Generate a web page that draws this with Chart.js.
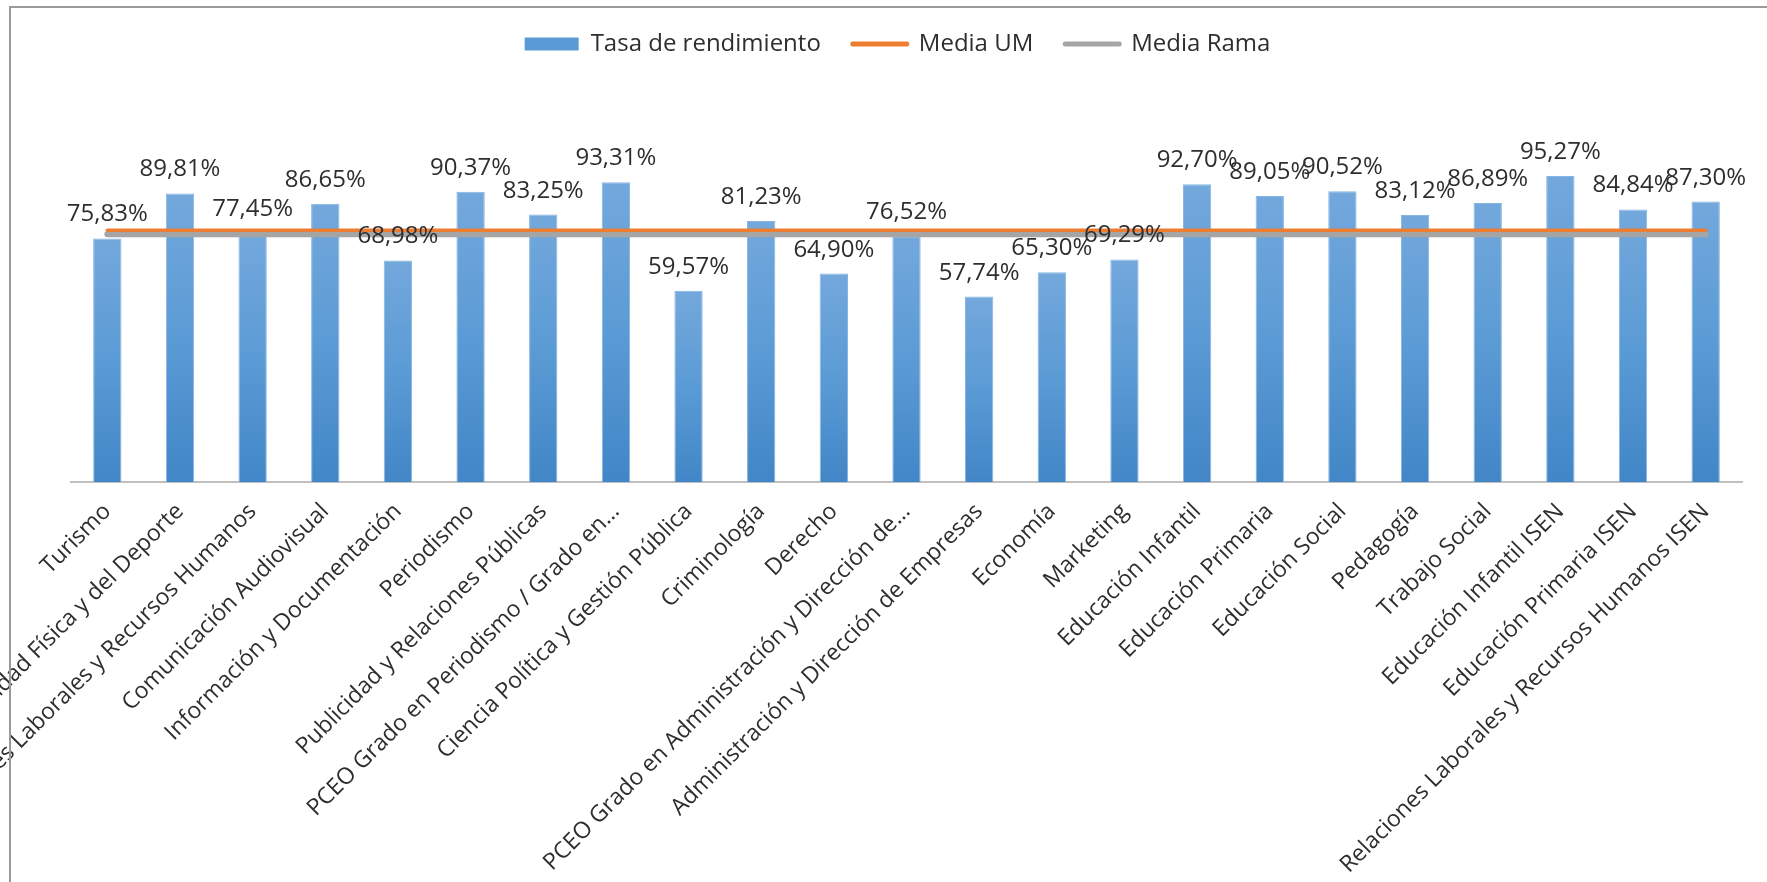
<!DOCTYPE html>
<html>
<head>
<meta charset="utf-8">
<script src="https://cdn.jsdelivr.net/npm/chart.js@4"></script>
<style>
    body { margin: 0; background: #fff; overflow: hidden; }
    #wrap { position: relative; width: 1767px; height: 882px; }
    #frame { position: absolute; left: 9px; top: 6px; right: -10px; bottom: -10px;
             border-top: 2px solid #9a9a9a; border-left: 2px solid #9a9a9a; pointer-events: none; }
</style>
</head>
<body>
<div id="wrap">
    <canvas id="grafico" width="1767" height="882"></canvas>
    <div id="frame"></div>
</div>
<script>
const titulaciones = [
    'Turismo',
    'Ciencias de la Actividad Física y del Deporte',
    'Relaciones Laborales y Recursos Humanos',
    'Comunicación Audiovisual',
    'Información y Documentación',
    'Periodismo',
    'Publicidad y Relaciones Públicas',
    'PCEO Grado en Periodismo / Grado en…',
    'Ciencia Política y Gestión Pública',
    'Criminología',
    'Derecho',
    'PCEO Grado en Administración y Dirección de…',
    'Administración y Dirección de Empresas',
    'Economía',
    'Marketing',
    'Educación Infantil',
    'Educación Primaria',
    'Educación Social',
    'Pedagogía',
    'Trabajo Social',
    'Educación Infantil ISEN',
    'Educación Primaria ISEN',
    'Relaciones Laborales y Recursos Humanos ISEN'
];
const tasa = [75.83, 89.81, 77.45, 86.65, 68.98, 90.37, 83.25, 93.31, 59.57, 81.23, 64.90, 76.52,
              57.74, 65.30, 69.29, 92.70, 89.05, 90.52, 83.12, 86.89, 95.27, 84.84, 87.30];
const media_um = [78.4, 78.4, 78.4, 78.4, 78.4, 78.4, 78.4, 78.4, 78.4, 78.4, 78.4, 78.4,
                  78.4, 78.4, 78.4, 78.4, 78.4, 78.4, 78.4, 78.4, 78.4, 78.4, 78.4];
const media_rama = [77.1, 77.1, 77.1, 77.1, 77.1, 77.1, 77.1, 77.1, 77.1, 77.1, 77.1, 77.1,
                    77.1, 77.1, 77.1, 77.1, 77.1, 77.1, 77.1, 77.1, 77.1, 77.1, 77.1];

const textColor = '#2e2e2e';
const fontName = '"Open Sans", sans-serif';

function formatPct(v) {
    return v.toFixed(2).replace('.', ',') + '%';
}

// Beschriftung über den Balken
const barLabels = {
    id: 'barLabels',
    afterDatasetsDraw(chart) {
        const meta = chart.getDatasetMeta(0);
        const c = chart.ctx;
        c.save();
        c.font = '24px ' + fontName;
        c.fillStyle = textColor;
        c.textAlign = 'center';
        c.textBaseline = 'alphabetic';
        meta.data.forEach((bar, i) => {
            c.fillText(formatPct(tasa[i]), bar.x, bar.y - 17);
        });
        c.restore();
    }
};

window.onload = function() {
    const ctx = document.getElementById('grafico').getContext('2d');
    new Chart(ctx, {
        type: 'bar',
        data: {
            labels: titulaciones,
            datasets: [
                {
                    label: 'Tasa de rendimiento',
                    data: tasa,
                    order: 3,
                    backgroundColor: context => {
                        const chart = context.chart;
                        if (!chart.chartArea || context.type !== 'data') return '#5b9bd5';
                        const y = chart.scales.y;
                        const top = y.getPixelForValue(context.raw);
                        const bottom = y.getPixelForValue(0);
                        const g = chart.ctx.createLinearGradient(0, top, 0, bottom);
                        g.addColorStop(0, '#73a8dc');
                        g.addColorStop(0.5, '#5b9bd5');
                        g.addColorStop(1, '#4286c7');
                        return g;
                    },
                    borderColor: '#86b5e3',
                    borderWidth: 1,
                    barPercentage: 0.39,
                    categoryPercentage: 1
                },
                {
                    type: 'line',
                    label: 'Media UM',
                    data: media_um,
                    order: 1,
                    borderColor: '#ed7d31',
                    backgroundColor: '#ed7d31',
                    borderWidth: 3.5,
                    borderCapStyle: 'round',
                    pointRadius: 0
                },
                {
                    type: 'line',
                    label: 'Media Rama',
                    data: media_rama,
                    order: 2,
                    borderColor: '#a5a5a5',
                    backgroundColor: '#a5a5a5',
                    borderWidth: 6,
                    borderCapStyle: 'round',
                    pointRadius: 0
                }
            ]
        },
        options: {
            responsive: false,
            animation: false,
            devicePixelRatio: 1,
            layout: {
                padding: { left: 53, right: 25, top: 0, bottom: 0 }
            },
            plugins: {
                tooltip: { enabled: false },
                legend: {
                    position: 'top',
                    labels: {
                        usePointStyle: true,
                        pointStyleWidth: 54,
                        boxHeight: 13,
                        padding: 32,
                        color: textColor,
                        font: { family: fontName, size: 24 },
                        sort: (a, b) => a.datasetIndex - b.datasetIndex,
                        generateLabels: chart => {
                            const items = Chart.defaults.plugins.legend.labels.generateLabels(chart);
                            items.forEach(item => {
                                const ds = chart.data.datasets[item.datasetIndex];
                                if (ds.type === 'line') {
                                    item.pointStyle = 'line';
                                    item.strokeStyle = ds.borderColor;
                                    item.lineWidth = 5;
                                    item.lineCap = 'round';
                                } else {
                                    item.pointStyle = 'rect';
                                    item.fillStyle = '#5b9bd5';
                                    item.strokeStyle = '#5b9bd5';
                                    item.lineWidth = 0;
                                }
                            });
                            return items;
                        }
                    }
                }
            },
            scales: {
                x: {
                    grid: { display: false },
                    border: { display: true, color: '#c0c0c0', width: 2 },
                    ticks: {
                        autoSkip: false,
                        maxRotation: 45,
                        minRotation: 45,
                        padding: 8,
                        color: textColor,
                        font: { family: fontName, size: 23 }
                    },
                    afterFit: scale => { scale.height = 400; }
                },
                y: {
                    min: 0,
                    max: 129.5,
                    grid: { display: false },
                    border: { display: false },
                    ticks: { display: false },
                    afterFit: scale => { scale.width = 18; }
                }
            }
        },
        plugins: [barLabels]
    });
};
</script>
</body>
</html>
